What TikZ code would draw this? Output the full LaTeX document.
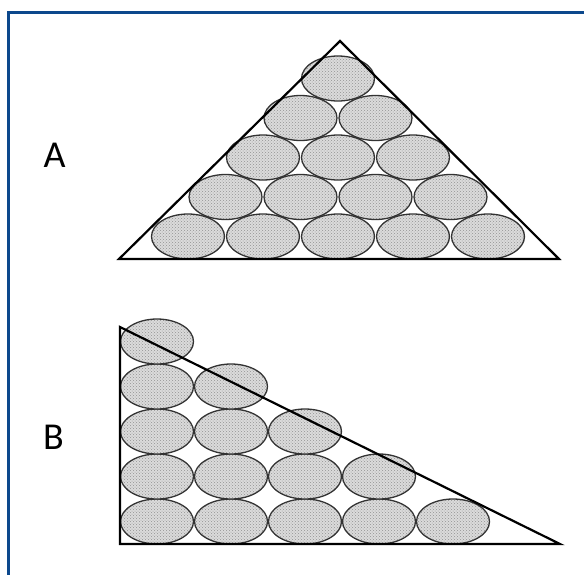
\documentclass[tikz,border=0pt]{standalone}
\usepackage{fontspec}
\setmainfont{Carlito}
\usetikzlibrary{patterns}
\definecolor{frameblue}{RGB}{12,72,140}
\tikzset{
  ball/.style={ellipse, draw=black!80, line width=1.3pt, minimum width=73pt, minimum height=45pt, inner sep=0pt,
    preaction={fill=gray!28}, pattern=crosshatch dots, pattern color=gray!85},
  tri/.style={draw=black, line width=2.2pt, line join=miter},
  lab/.style={font=\fontsize{38}{40}\selectfont, inner sep=0pt}
}
\usetikzlibrary{shapes.geometric}
\begin{document}
\begin{tikzpicture}[x=1pt,y=-1pt]
\useasboundingbox (0,0) rectangle (584,574);
\draw[frameblue, line width=3pt] (8.5,12.5) rectangle (600,600);
% labels
\node[lab] (labA) at (54.5,155) {A};
\node[lab] (labB) at (53.5,437) {B};
% A ellipses
\foreach \r/\n in {0/5,1/4,2/3,3/2,4/1}{
  \foreach \i in {1,...,\n}{
    \pgfmathsetmacro{\cx}{338 + 75*(\i - (\n+1)/2)}
    \pgfmathsetmacro{\cy}{236.5 - 39.5*\r}
    \node[ball] (a\r\i) at (\cx,\cy) {};
  }
}
\coordinate (atop) at (340,41);
\coordinate (aleft) at (119,259);
\coordinate (aright) at (559,259);
\draw[tri] (aleft) -- (atop) -- (aright) -- cycle;
% B ellipses
\foreach \r in {0,...,4}{
  \pgfmathtruncatemacro{\n}{5-\r}
  \foreach \i in {1,...,\n}{
    \pgfmathsetmacro{\cx}{157 + 74*(\i-1)}
    \pgfmathsetmacro{\cy}{521.5 - 45*\r}
    \node[ball] (b\r\i) at (\cx,\cy) {};
  }
}
\coordinate (btop) at (120,327);
\coordinate (bleft) at (120,544);
\coordinate (bright) at (560,544);
\draw[tri] (btop) -- (bleft) -- (bright) -- cycle;
\end{tikzpicture}
\end{document}
